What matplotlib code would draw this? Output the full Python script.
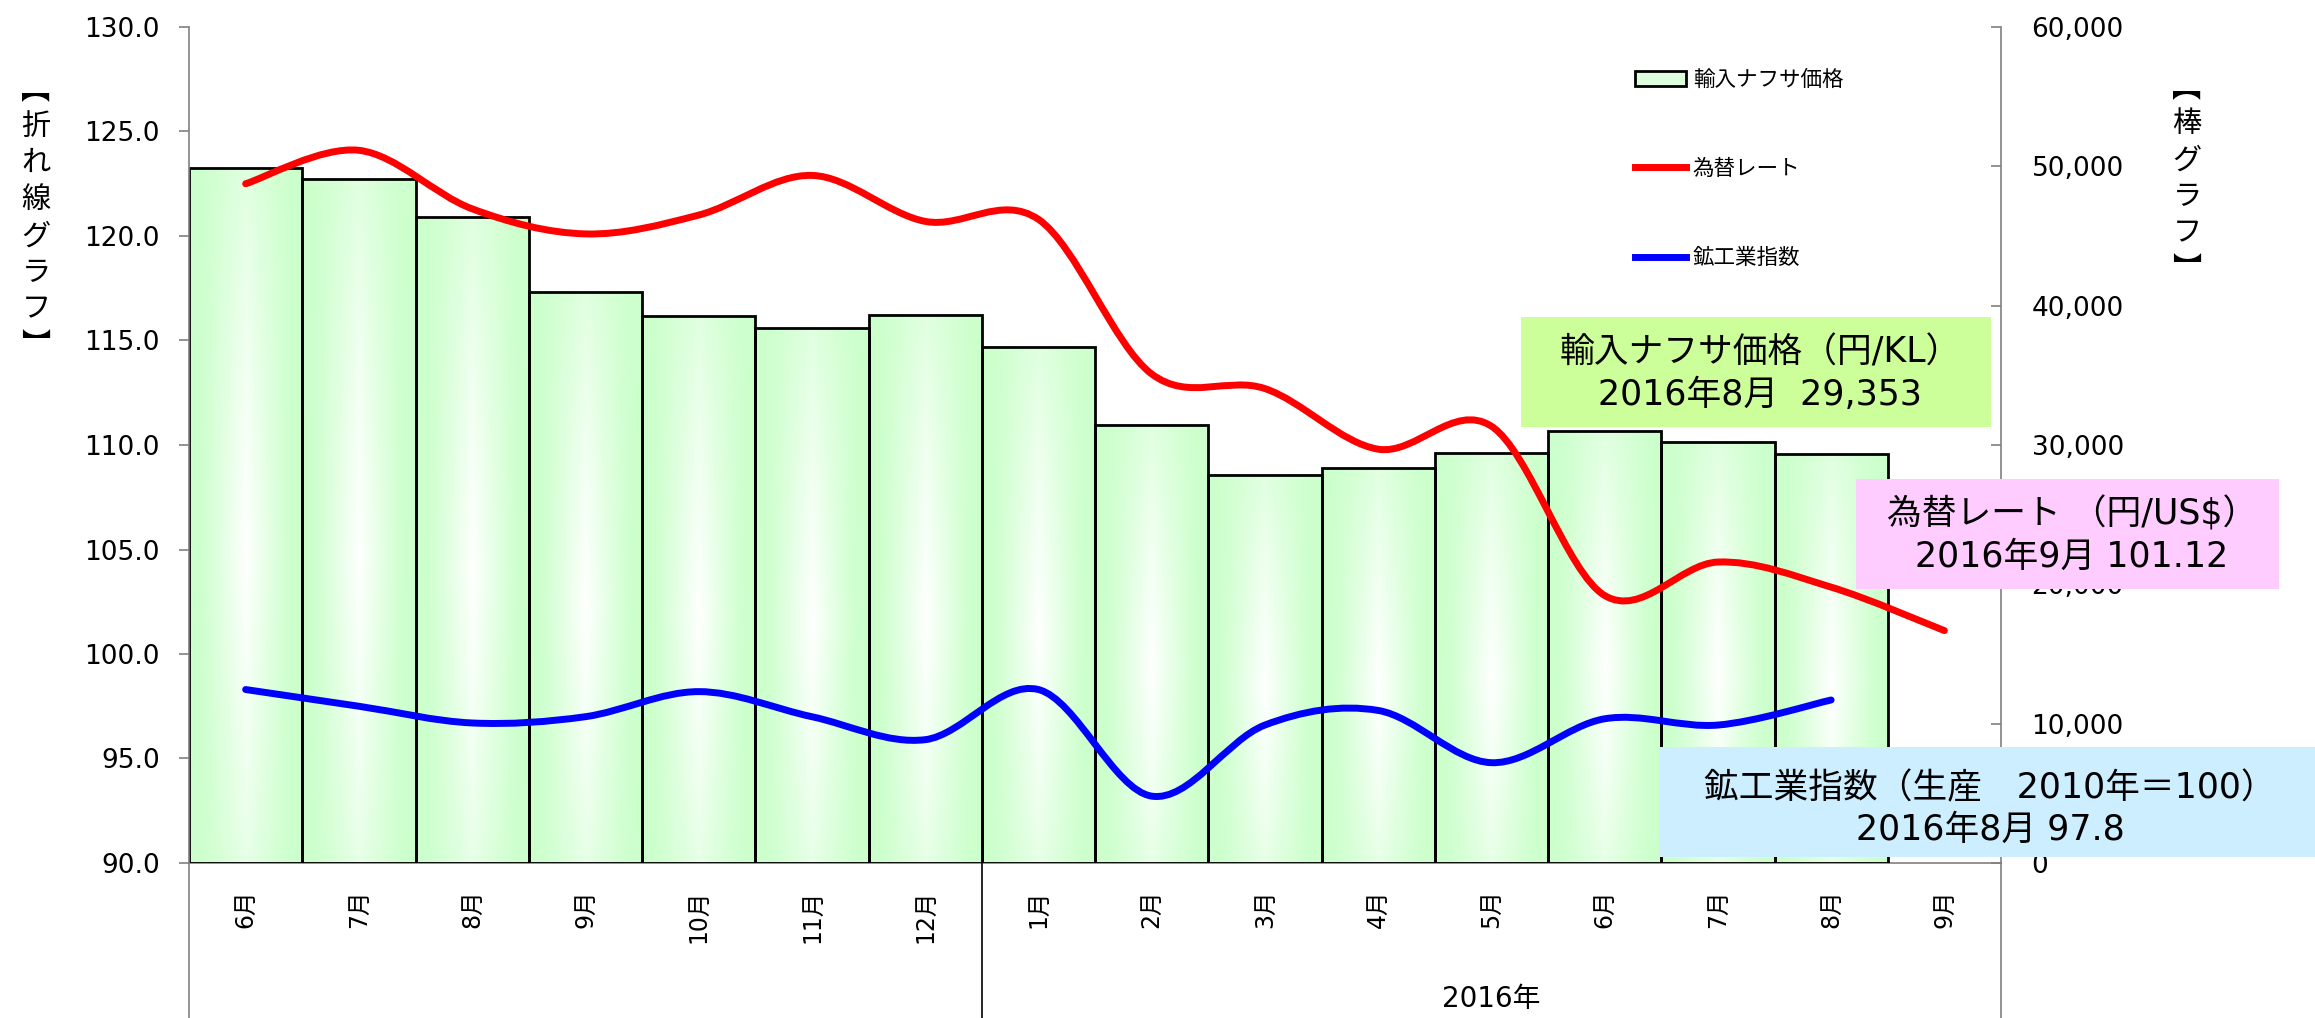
import numpy as np
import matplotlib
matplotlib.use("Agg")
import matplotlib.pyplot as plt
import matplotlib.transforms as mtransforms
from matplotlib.path import Path
from matplotlib.patches import PathPatch, Rectangle
from matplotlib.lines import Line2D
from matplotlib.ticker import MultipleLocator, FuncFormatter

plt.rcParams['font.family'] = ['DejaVu Sans', 'Noto Sans CJK JP']
JP = ['Noto Sans CJK JP', 'DejaVu Sans']
MIX = ['DejaVu Sans', 'Noto Sans CJK JP']

# data (2015/6 .. 2016/9)
months = ['6月', '7月', '8月', '9月', '10月', '11月', '12月',
          '1月', '2月', '3月', '4月', '5月', '6月', '7月', '8月', '9月']
year_label = '2016年'
naphtha = [49900, 49100, 46350, 40950, 39250, 38400, 39350,
           37050, 31450, 27850, 28350, 29400, 31000, 30250, 29353]   # 円/KL (right axis)
fx_rate = [122.5, 124.1, 121.3, 120.1, 121.0, 122.9, 120.7,
           120.8, 113.4, 112.7, 109.8, 110.9, 102.8, 104.4, 103.2, 101.12]  # 円/US$
industry = [98.3, 97.5, 96.7, 97.0, 98.2, 97.0, 95.9,
            98.3, 93.2, 96.6, 97.3, 94.8, 96.9, 96.6, 97.8]   # 2010=100
legend_labels = ['輸入ナフサ価格', '為替レート', '鉱工業指数']
notes = ['輸入ナフサ価格（円/KL）\n2016年8月  29,353',
         '為替レート （円/US$）\n2016年9月 101.12',
         '鉱工業指数（生産　2010年＝100）\n2016年8月 97.8']

W, H = 2315, 1018
fig = plt.figure(figsize=(W / 100, H / 100), dpi=100)
L, R, T, B = 189, 2001, 27, 863
ax = fig.add_axes([L / W, 1 - B / H, (R - L) / W, (B - T) / H])
ax2 = ax.twinx()
ax.set_zorder(ax2.get_zorder() + 1)
ax.patch.set_visible(False)

x = np.arange(len(months))

# bars with a soft white centre like the excel fill
bars = ax2.bar(x[:len(naphtha)], naphtha, width=1.0, facecolor='none',
               edgecolor='black', linewidth=2, zorder=3)
u = np.linspace(0, 1, 101)
v = np.linspace(0, 1, 200)
U, V = np.meshgrid(u, v)
hx = np.clip(1 - np.abs(U - 0.5) / 0.42, 0, 1) ** 1.1
vy = np.clip(1 - np.abs(V - 0.45) / 0.7, 0, 1) ** 0.6
f = (hx * vy)[..., None]
green = np.array([0.8, 1.0, 0.8])
img = green[None, None, :] * (1 - f) + f
for b in bars:
    x0, w, h = b.get_x(), b.get_width(), b.get_height()
    ax2.imshow(img, extent=(x0, x0 + w, 0, h), origin='lower', aspect='auto',
               interpolation='bilinear', zorder=2)


def smooth_path(xs, ys):
    # excel-like smoothed line: catmull-rom as cubic bezier
    pts = np.column_stack([xs, ys]).astype(float)
    n = len(pts)
    verts = [pts[0]]
    codes = [Path.MOVETO]
    for i in range(n - 1):
        p0 = pts[max(i - 1, 0)]
        p1 = pts[i]
        p2 = pts[i + 1]
        p3 = pts[min(i + 2, n - 1)]
        verts += [p1 + (p2 - p0) / 6, p2 - (p3 - p1) / 6, p2]
        codes += [Path.CURVE4] * 3
    return Path(verts, codes)


ax.add_patch(PathPatch(smooth_path(x[:len(fx_rate)], fx_rate), fill=False,
                       edgecolor='red', lw=5, capstyle='round', zorder=4))
ax.add_patch(PathPatch(smooth_path(x[:len(industry)], industry), fill=False,
                       edgecolor='blue', lw=5, capstyle='round', zorder=4))

ax.set_xlim(-0.5, len(months) - 0.5)
ax.set_ylim(90, 130)
ax2.set_ylim(0, 60000)

ax.yaxis.set_major_locator(MultipleLocator(5))
ax.yaxis.set_major_formatter(FuncFormatter(lambda val, p: f'{val:.1f}'))
ax2.yaxis.set_major_locator(MultipleLocator(10000))
ax2.yaxis.set_major_formatter(FuncFormatter(lambda val, p: f'{val:,.0f}'))

gray = '#808080'
ax.tick_params(axis='y', direction='out', length=7, width=1.2, color=gray,
               pad=14, labelsize=19)
ax2.tick_params(axis='y', direction='in', length=7, width=1.2, color=gray,
                pad=22, labelsize=19)
ax.set_xticks(x)
ax.set_xticklabels(months, rotation=90, fontsize=17)
ax.tick_params(axis='x', length=0, pad=19)

for s in ['top', 'right', 'bottom']:
    ax.spines[s].set_visible(False)
for s in ['top', 'left']:
    ax2.spines[s].set_visible(False)
ax.spines['left'].set_color(gray)
ax2.spines['right'].set_color(gray)
ax2.spines['bottom'].set_color(gray)
for s in [ax.spines['left'], ax2.spines['right'], ax2.spines['bottom']]:
    s.set_linewidth(1.2)

# multi level category axis lines
trans = mtransforms.blended_transform_factory(ax.transData, ax.transAxes)
low = -(H - B) / (B - T)
for xv, col in [(x[0] - 0.5, gray), (x[7] - 0.5, 'black'), (x[-1] + 0.5, gray)]:
    ax.add_line(Line2D([xv, xv], [0, low], transform=trans, color=col,
                       lw=1.2, clip_on=False))
ax.text((x[7] + x[-1]) / 2, -0.163, year_label, transform=trans, ha='center',
        va='center', fontsize=20)

# legend
handles = [Rectangle((0, 0), 1, 1, facecolor='#ddffdd', edgecolor='black', lw=2),
           Line2D([], [], color='red', lw=5),
           Line2D([], [], color='blue', lw=5)]
ax.legend(handles, legend_labels, loc='upper left',
          bbox_to_anchor=(1624 / W, 1 - 58 / H), bbox_transform=fig.transFigure,
          frameon=False, prop={'family': JP, 'size': 15.5}, labelspacing=3.12,
          handlelength=2.4, handletextpad=0.3, borderpad=0)

# axis titles written vertically
fig.text(36 / W, 1 - 218 / H, '\n'.join('︻折れ線グラフ︼'), ha='center', va='center',
         fontsize=21, family=JP, linespacing=1.28)
fig.text(2187 / W, 1 - 179 / H, '\n'.join('︻棒グラフ︼'), ha='center', va='center',
         fontsize=21, family=JP, linespacing=1.28)

# note boxes
boxes = [(1521, 317, 1991, 427, '#ccff99'),
         (1856, 479, 2279, 589, '#ffccff'),
         (1659, 747, 2315, 857, '#cceeff')]
text_pos = [(1760, 374), (2072, 535), (1990, 809)]
for (x0, y0, x1, y1, col), (tx, ty), note in zip(boxes, text_pos, notes):
    fig.add_artist(Rectangle((x0 / W, 1 - y1 / H), (x1 - x0) / W, (y1 - y0) / H,
                             transform=fig.transFigure, facecolor=col,
                             edgecolor='none', zorder=10))
    fig.text(tx / W, 1 - ty / H, note, ha='center', va='center', multialignment='center',
             fontsize=25, family=MIX, linespacing=1.3, zorder=11)

fig.savefig('out.png', dpi=100)
